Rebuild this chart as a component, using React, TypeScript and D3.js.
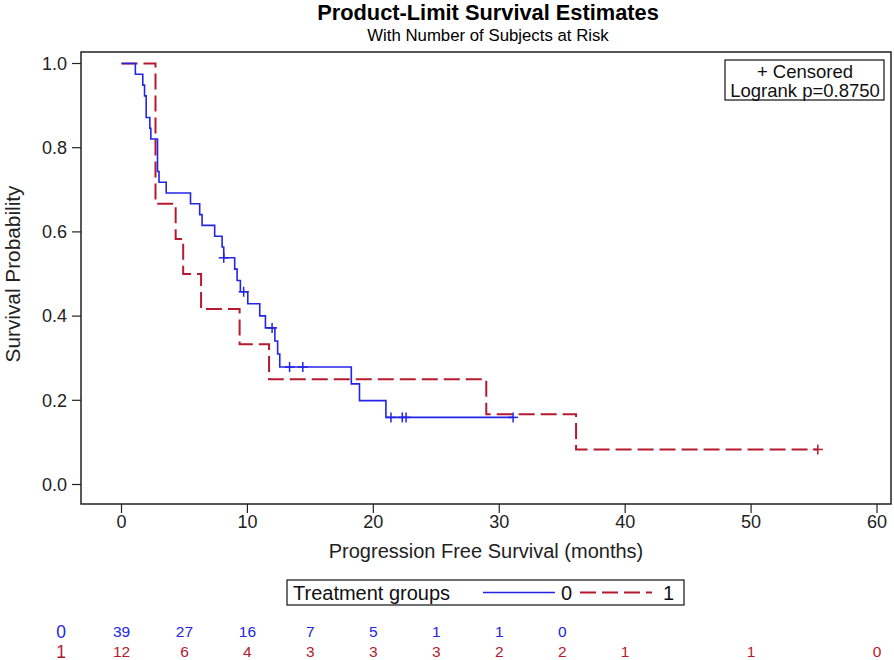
import React from "react";
import * as d3 from "d3";

// ---- Data ----
const blueTimes = [0, 1.1, 1.69, 1.83, 1.96, 2.25, 2.33, 2.86, 2.98, 3.55, 5.48, 6.21, 6.4, 7.4, 7.99, 8.12, 8.99, 9.18, 9.44, 10.03, 10.98, 11.43, 12.18, 12.4, 12.57, 18.25, 18.9, 21.0, 31.1];
const blueSurv = [1, 0.9744, 0.9487, 0.9231, 0.8718, 0.8462, 0.8205, 0.7436, 0.7179, 0.6923, 0.6667, 0.641, 0.6154, 0.5897, 0.5641, 0.5385, 0.5116, 0.4847, 0.4578, 0.4292, 0.4006, 0.372, 0.341, 0.31, 0.279, 0.2391, 0.1993, 0.1594, 0.1594];
const blueCensored = [8.12, 9.7, 11.96, 13.35, 14.4, 21.4, 22.3, 22.6, 31.1];

const redTimes = [0, 2.7, 4.3, 4.9, 6.32, 9.38, 11.72, 28.97, 36.1, 55.3];
const redSurv = [1, 0.6667, 0.5833, 0.5, 0.4167, 0.3333, 0.25, 0.1667, 0.0833, 0.0833];
const redCensored = [55.3];

const xTicks = [0, 10, 20, 30, 40, 50, 60];
const yTicks = [0, 0.2, 0.4, 0.6, 0.8, 1.0];

const riskTimesBlue = [0, 5, 10, 15, 20, 25, 30, 35];
const riskBlue = [39, 27, 16, 7, 5, 1, 1, 0];
const riskTimesRed = [0, 5, 10, 15, 20, 25, 30, 35, 40, 50, 60];
const riskRed = [12, 6, 4, 3, 3, 3, 2, 2, 1, 1, 0];

const BLUE = "#2424E6";
const RED = "#B51A2E";
const FONT = "'Liberation Sans', Arial, sans-serif";

export default function App() {
  const x = d3.scaleLinear().domain([0, 60]).range([121.5, 877]);
  const y = d3.scaleLinear().domain([0, 1]).range([484.5, 63.5]);
  const frame = { x0: 81, y0: 52, x1: 891, y1: 504 };

  const line = d3
    .line<[number, number]>()
    .x((d) => x(d[0]))
    .y((d) => y(d[1]))
    .curve(d3.curveStepAfter);

  const bluePts: [number, number][] = blueTimes.map((t, i) => [t, blueSurv[i]]);
  const redPts: [number, number][] = redTimes.map((t, i) => [t, redSurv[i]]);

  const survAt = (times: number[], surv: number[], t: number) => {
    const i = d3.bisectRight(times, t) - 1;
    return surv[Math.max(0, i)];
  };

  const plus = (cx: number, cy: number, color: string, key: string) => (
    <g key={key} stroke={color} strokeWidth={1.5}>
      <line x1={cx - 5} x2={cx + 5} y1={cy} y2={cy} />
      <line x1={cx} x2={cx} y1={cy - 5} y2={cy + 5} />
    </g>
  );

  return (
    <svg
      width={894}
      height={660}
      style={{ position: "absolute", left: 0, top: 0, display: "block", background: "#fff" }}
      fontFamily={FONT}
    >
      {/* Titles */}
      <text x={488} y={19.5} textAnchor="middle" fontSize={21.8} fontWeight="bold" fill="#000">
        Product-Limit Survival Estimates
      </text>
      <text x={488} y={40.5} textAnchor="middle" fontSize={16.8} fill="#000">
        With Number of Subjects at Risk
      </text>

      {/* Frame */}
      <rect
        x={frame.x0}
        y={frame.y0}
        width={frame.x1 - frame.x0}
        height={frame.y1 - frame.y0}
        fill="none"
        stroke="#222"
        strokeWidth={1.5}
      />

      {/* Y axis ticks */}
      {yTicks.map((t) => (
        <g key={"y" + t}>
          <line x1={frame.x0 - 9} x2={frame.x0} y1={y(t)} y2={y(t)} stroke="#222" strokeWidth={1.2} />
          <text x={67} y={y(t) + 6.3} textAnchor="end" fontSize={18} fill="#222">
            {t.toFixed(1)}
          </text>
        </g>
      ))}
      <text
        transform={`translate(20, 274) rotate(-90)`}
        textAnchor="middle"
        fontSize={20.8}
        fill="#222"
      >
        Survival Probability
      </text>

      {/* X axis ticks */}
      {xTicks.map((t) => (
        <g key={"x" + t}>
          <line x1={x(t)} x2={x(t)} y1={frame.y1} y2={frame.y1 + 9} stroke="#222" strokeWidth={1.2} />
          <text x={x(t)} y={527.5} textAnchor="middle" fontSize={18} fill="#222">
            {t}
          </text>
        </g>
      ))}
      <text x={486} y={558} textAnchor="middle" fontSize={20} fill="#222">
        Progression Free Survival (months)
      </text>

      {/* Curves */}
      <path d={line(redPts) || ""} fill="none" stroke={RED} strokeWidth={2} strokeDasharray="16 6" />
      <path d={line(bluePts) || ""} fill="none" stroke={BLUE} strokeWidth={1.6} />
      {redCensored.map((t, i) => plus(x(t), y(survAt(redTimes, redSurv, t)), RED, "rc" + i))}
      {blueCensored.map((t, i) => plus(x(t), y(survAt(blueTimes, blueSurv, t)), BLUE, "bc" + i))}

      {/* Inset box */}
      <rect x={725} y={60} width={159} height={40} fill="#fff" stroke="#111" strokeWidth={1.2} />
      <text x={805} y={77.5} textAnchor="middle" fontSize={18.5} fill="#111">
        + Censored
      </text>
      <text x={805} y={96.5} textAnchor="middle" fontSize={18.5} fill="#111">
        Logrank p=0.8750
      </text>

      {/* Legend */}
      <rect x={287} y={580} width={397} height={25} fill="#fff" stroke="#111" strokeWidth={1.2} />
      <text x={293} y={599.5} fontSize={20} fill="#111">
        Treatment groups
      </text>
      <line x1={483} x2={555} y1={592.5} y2={592.5} stroke={BLUE} strokeWidth={1.6} />
      <text x={561} y={599.5} fontSize={20} fill="#111">
        0
      </text>
      <line x1={580} x2={652} y1={592.5} y2={592.5} stroke={RED} strokeWidth={2} strokeDasharray="16 6" />
      <text x={663} y={599.5} fontSize={20} fill="#111">
        1
      </text>

      {/* At-risk table */}
      <text x={61} y={637.5} textAnchor="middle" fontSize={17.5} fill={BLUE}>
        0
      </text>
      <text x={61} y={657.5} textAnchor="middle" fontSize={17.5} fill={RED}>
        1
      </text>
      {riskTimesBlue.map((t, i) => (
        <text key={"rb" + i} x={x(t)} y={636.5} textAnchor="middle" fontSize={15.5} fill={BLUE}>
          {riskBlue[i]}
        </text>
      ))}
      {riskTimesRed.map((t, i) => (
        <text key={"rr" + i} x={x(t)} y={656.5} textAnchor="middle" fontSize={15.5} fill={RED}>
          {riskRed[i]}
        </text>
      ))}
    </svg>
  );
}
